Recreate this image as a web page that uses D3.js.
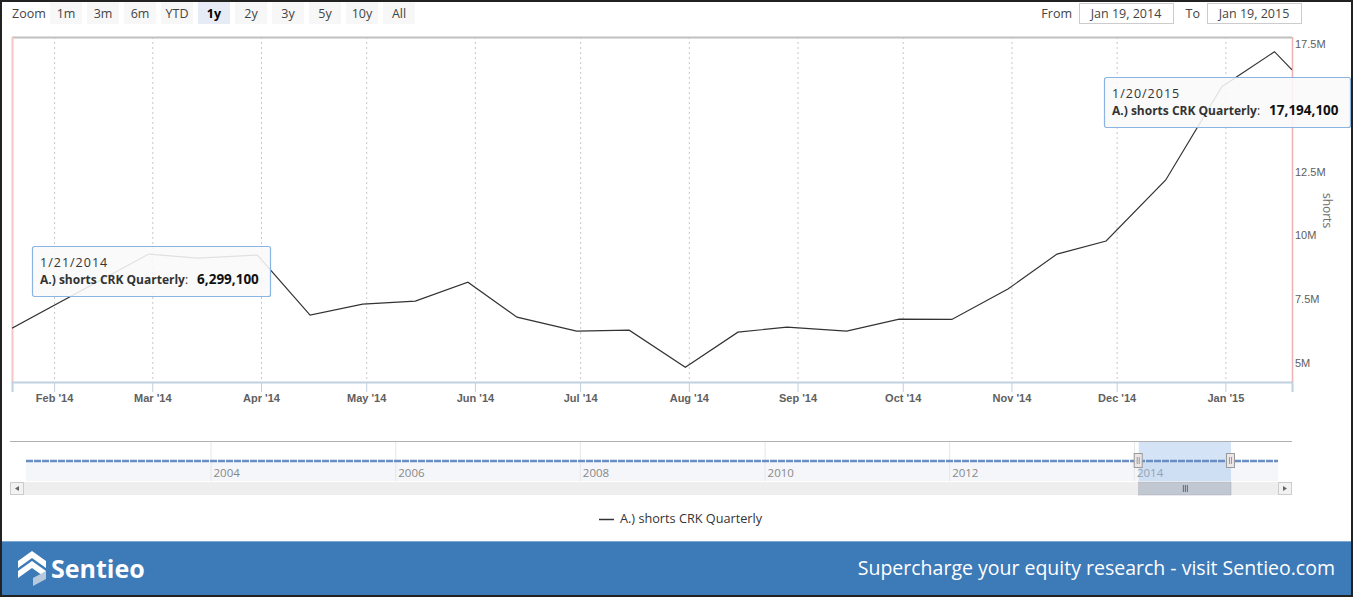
<!DOCTYPE html>
<html>
<head>
<meta charset="utf-8">
<script src="https://cdn.jsdelivr.net/npm/d3@7"></script>
<style>
  html, body { margin: 0; padding: 0; background: #fff; }
  svg { display: block; }
</style>
</head>
<body>
<div id="chart"></div>
<script>
// short interest, twice a month (values in shares)
const dates = [
  "2014-01-20", "2014-02-28", "2014-03-14", "2014-03-31", "2014-04-15", "2014-04-30",
  "2014-05-15", "2014-05-30", "2014-06-13", "2014-06-30", "2014-07-15", "2014-07-31",
  "2014-08-15", "2014-08-29", "2014-09-15", "2014-09-30", "2014-10-15", "2014-10-31",
  "2014-11-14", "2014-11-28", "2014-12-15", "2014-12-31", "2015-01-15", "2015-01-20"
];
const shorts = [
  6370000, 9270000, 9110000, 9230000, 6880000, 7310000,
  7430000, 8170000, 6800000, 6250000, 6290000, 4840000,
  6210000, 6410000, 6250000, 6720000, 6710000, 7900000,
  9270000, 9780000, 12170000, 15820000, 17194100, 16480000
];
// the 15M label sits under the right tooltip, so it is not shown
const yTicks = [5000000, 7500000, 10000000, 12500000, 17500000];
const yTickLabels = ["5M", "7.5M", "10M", "12.5M", "17.5M"];
const zoomButtons = ["1m", "3m", "6m", "YTD", "1y", "2y", "3y", "5y", "10y", "All"];
const navYears = [2004, 2006, 2008, 2010, 2012, 2014];
const seriesName = "A.) shorts CRK Quarterly";
const tooltips = [
  { date: "1/21/2014", value: "6,299,100" },
  { date: "1/20/2015", value: "17,194,100" }
];

const W = 1353, H = 597;
const parse = d3.timeParse("%Y-%m-%d");
const data = dates.map((d, i) => ({ date: parse(d), value: shorts[i] }));

const svg = d3.select("#chart").append("svg")
  .attr("width", W).attr("height", H)
  .style("font-family", "'Open Sans', sans-serif");

svg.append("rect").attr("width", W).attr("height", H).attr("fill", "#fff");

// ---- range selector buttons
svg.append("text").attr("x", 12).attr("y", 18)
  .style("font-size", "12.5px").style("fill", "#444").text("Zoom");

zoomButtons.forEach((b, i) => {
  const bx = 50 + i * 37;
  const sel = b === "1y";
  svg.append("rect").attr("x", bx).attr("y", 2).attr("width", 32).attr("height", 22)
    .attr("fill", sel ? "#e6ebf5" : "#f7f7f7");
  svg.append("text").attr("x", bx + 16).attr("y", 18).attr("text-anchor", "middle")
    .style("font-size", "12.5px")
    .style("font-weight", sel ? "bold" : "normal")
    .style("fill", sel ? "#000" : "#444").text(b);
});

svg.append("text").attr("x", 1072).attr("y", 18).attr("text-anchor", "end")
  .style("font-size", "12.5px").style("fill", "#444").text("From");
svg.append("rect").attr("x", 1079.5).attr("y", 3.5).attr("width", 94).attr("height", 20)
  .attr("fill", "#fff").attr("stroke", "#ccc");
svg.append("text").attr("x", 1126).attr("y", 18).attr("text-anchor", "middle")
  .style("font-size", "12.5px").style("fill", "#444").text("Jan 19, 2014");
svg.append("text").attr("x", 1200).attr("y", 18).attr("text-anchor", "end")
  .style("font-size", "12.5px").style("fill", "#444").text("To");
svg.append("rect").attr("x", 1207.5).attr("y", 3.5).attr("width", 94).attr("height", 20)
  .attr("fill", "#fff").attr("stroke", "#ccc");
svg.append("text").attr("x", 1254).attr("y", 18).attr("text-anchor", "middle")
  .style("font-size", "12.5px").style("fill", "#444").text("Jan 19, 2015");

// ---- main plot
const plot = { left: 12, right: 1292, top: 37, bottom: 382 };

const x = d3.scaleTime()
  .domain([parse("2014-01-20"), parse("2015-01-20")])
  .range([plot.left, plot.right]);

const y = d3.scaleLinear()
  .domain([4260000, 17770000])
  .range([plot.bottom, plot.top]);

// vertical grid
const months = x.ticks(d3.timeMonth.every(1));
svg.append("g").selectAll("line").data(months).enter().append("line")
  .attr("x1", d => x(d) + 0.5).attr("x2", d => x(d) + 0.5)
  .attr("y1", plot.top).attr("y2", plot.bottom)
  .attr("stroke", "#c8c8c8").attr("stroke-dasharray", "2,3");

// plot frame
svg.append("line").attr("x1", plot.left).attr("x2", plot.right)
  .attr("y1", plot.top + 0.5).attr("y2", plot.top + 0.5).attr("stroke", "#c0c0c0").attr("stroke-width", 2);
svg.append("line").attr("x1", plot.left + 0.5).attr("x2", plot.left + 0.5)
  .attr("y1", plot.top).attr("y2", plot.bottom).attr("stroke", "#f5c6c6").attr("stroke-width", 2);
svg.append("line").attr("x1", plot.right + 0.5).attr("x2", plot.right + 0.5)
  .attr("y1", plot.top).attr("y2", plot.bottom).attr("stroke", "#f0b0b0").attr("stroke-width", 1.5);

// x axis
const xAxis = svg.append("g")
  .attr("transform", `translate(0,${plot.bottom})`)
  .call(d3.axisBottom(x).ticks(d3.timeMonth.every(1))
    .tickFormat(d3.timeFormat("%b '%y")).tickSize(10).tickPadding(2));
xAxis.select(".domain").attr("stroke", "#c0d0e0").attr("stroke-width", 2);
xAxis.selectAll(".tick line").attr("stroke", "#c0d0e0");
xAxis.selectAll("text")
  .style("font-family", "'Liberation Sans Narrow', 'Arial Narrow', sans-serif")
  .style("font-weight", "bold").style("font-size", "11px").style("fill", "#606060");

// y axis on the right
const yAxis = svg.append("g")
  .attr("transform", `translate(${plot.right},0)`)
  .call(d3.axisRight(y).tickValues(yTicks)
    .tickFormat((d, i) => yTickLabels[i]).tickSize(0).tickPadding(3));
yAxis.select(".domain").remove();
yAxis.selectAll("text")
  .style("font-family", "'Liberation Sans Narrow', 'Arial Narrow', sans-serif")
  .style("font-size", "11px").style("fill", "#606060");

svg.append("text")
  .attr("transform", `translate(1323,${(plot.top + plot.bottom) / 2 + 1}) rotate(90)`)
  .attr("text-anchor", "middle")
  .style("font-size", "12px").style("fill", "#707070").text("shorts");

// series line
svg.append("defs").append("clipPath").attr("id", "clip")
  .append("rect").attr("x", plot.left).attr("y", plot.top)
  .attr("width", plot.right - plot.left).attr("height", plot.bottom - plot.top);

const line = d3.line().x(d => x(d.date)).y(d => y(d.value));
svg.append("path").datum(data)
  .attr("clip-path", "url(#clip)")
  .attr("fill", "none").attr("stroke", "#333").attr("stroke-width", 1.2)
  .attr("d", line);

// ---- navigator
const nav = { left: 26, right: 1278, top: 442, bottom: 481 };
const nx = d3.scaleTime()
  .domain([new Date(2002, 0, 1), new Date(2015, 6, 25)])
  .range([nav.left, nav.right]);

svg.append("rect").attr("x", nav.left).attr("y", 461).attr("width", nav.right - nav.left)
  .attr("height", nav.bottom - 461).attr("fill", "#f4f6fa");
svg.append("line").attr("x1", 10).attr("x2", plot.right).attr("y1", 441.5).attr("y2", 441.5)
  .attr("stroke", "#b0b0b0");

svg.append("g").selectAll("line").data(navYears).enter().append("line")
  .attr("x1", d => nx(new Date(d, 0, 1)) + 0.5).attr("x2", d => nx(new Date(d, 0, 1)) + 0.5)
  .attr("y1", 442).attr("y2", nav.bottom).attr("stroke", "#e6e6e6");
svg.append("g").selectAll("text").data(navYears).enter().append("text")
  .attr("x", d => nx(new Date(d, 0, 1)) + 3).attr("y", 477)
  .style("font-size", "11.5px").style("fill", "#888").text(d => d);

// selected window
const selA = nx(parse("2014-01-20")), selB = nx(parse("2015-01-20"));
svg.append("rect").attr("x", selA).attr("y", 442).attr("width", selB - selA)
  .attr("height", nav.bottom - 442).attr("fill", "rgba(160,195,235,0.45)");

// navigator series
svg.append("line").attr("x1", nav.left).attr("x2", nav.right).attr("y1", 461).attr("y2", 461)
  .attr("stroke", "#6a8dc2").attr("stroke-width", 2.5).attr("stroke-dasharray", "7,1");

[selA, selB].forEach(hx => {
  svg.append("rect").attr("x", hx - 4.5).attr("y", 453.5).attr("width", 8).attr("height", 14)
    .attr("fill", "#ebe7e8").attr("stroke", "#999");
  svg.append("line").attr("x1", hx - 1.5).attr("x2", hx - 1.5).attr("y1", 457).attr("y2", 464).attr("stroke", "#999");
  svg.append("line").attr("x1", hx + 0.5).attr("x2", hx + 0.5).attr("y1", 457).attr("y2", 464).attr("stroke", "#999");
});

// scrollbar
svg.append("rect").attr("x", 10).attr("y", 482).attr("width", plot.right - 10).attr("height", 13)
  .attr("fill", "#eeeeee");
svg.append("rect").attr("x", selA).attr("y", 482).attr("width", selB - selA).attr("height", 13)
  .attr("fill", "#c1c8d2").attr("stroke", "#aab").attr("stroke-width", 0.5);
[-2, 0, 2].forEach(o => {
  svg.append("line").attr("x1", (selA + selB) / 2 + o + 0.5).attr("x2", (selA + selB) / 2 + o + 0.5)
    .attr("y1", 485).attr("y2", 492).attr("stroke", "#666");
});
svg.append("rect").attr("x", 10.5).attr("y", 482.5).attr("width", 13).attr("height", 12)
  .attr("fill", "#f2f2f2").attr("stroke", "#ccc");
svg.append("path").attr("d", "M19,486 L15,488.5 L19,491 Z").attr("fill", "#666");
svg.append("rect").attr("x", 1278.5).attr("y", 482.5).attr("width", 13).attr("height", 12)
  .attr("fill", "#f2f2f2").attr("stroke", "#ccc");
svg.append("path").attr("d", "M1283,486 L1287,488.5 L1283,491 Z").attr("fill", "#666");

// ---- legend
svg.append("line").attr("x1", 599).attr("x2", 614).attr("y1", 519.5).attr("y2", 519.5)
  .attr("stroke", "#333").attr("stroke-width", 1.5);
svg.append("text").attr("x", 620).attr("y", 523)
  .style("font-size", "12.7px").style("fill", "#333").text(seriesName);

// ---- tooltips
function tooltip(tx, ty, w, t) {
  const g = svg.append("g").attr("transform", `translate(${tx},${ty})`);
  g.append("rect").attr("x", 0.5).attr("y", 0.5).attr("width", w).attr("height", 50)
    .attr("rx", 2).attr("fill", "rgba(249,249,249,0.88)")
    .attr("stroke", "#8cb4e2").attr("stroke-width", 1.2);
  g.append("text").attr("x", 8).attr("y", 21)
    .style("font-size", "12.5px").style("fill", "#333").style("letter-spacing", "1px").text(t.date);
  const tt = g.append("text").attr("x", 8).attr("y", 38).style("fill", "#333");
  tt.append("tspan").style("font-size", "12px").style("font-weight", "bold").text(seriesName);
  tt.append("tspan").style("font-size", "12px").text(":");
  tt.append("tspan").attr("dx", 9).style("font-size", "13.5px").style("font-weight", "bold")
    .style("fill", "#111").text(t.value);
}
tooltip(32, 246, 238, tooltips[0]);
tooltip(1104, 77, 246, tooltips[1]);

// ---- footer band
svg.append("rect").attr("x", 0).attr("y", 541).attr("width", W).attr("height", H - 541)
  .attr("fill", "#3d7ab8");
svg.append("line").attr("x1", 0).attr("x2", W).attr("y1", 541.5).attr("y2", 541.5)
  .attr("stroke", "#7fa9d6");

// logo mark
const logo = svg.append("g").attr("transform", "translate(18,551)");
logo.append("path").attr("d", "M0,10 L14,0 L28,10 L28,17 L14,7 L0,17 Z").attr("fill", "#fff");
logo.append("path").attr("d", "M0,20 L14,10 L28,20 L28,27 L14,17 L0,27 Z").attr("fill", "#fff");
logo.append("path").attr("d", "M15,27 L28,20 L28,28 L15,35 Z").attr("fill", "#b9c9dc");
svg.append("text").attr("x", 51).attr("y", 578)
  .style("font-family", "'Open Sans', sans-serif").style("font-weight", "bold")
  .style("font-size", "25px").style("fill", "#fff").text("Sentieo");

svg.append("text").attr("x", 1335).attr("y", 575).attr("text-anchor", "end")
  .style("font-size", "19.5px").style("fill", "#fff")
  .text("Supercharge your equity research - visit Sentieo.com");

// outer frame
svg.append("rect").attr("x", 1).attr("y", 1).attr("width", W - 2).attr("height", H - 2)
  .attr("fill", "none").attr("stroke", "#222").attr("stroke-width", 2);
</script>
</body>
</html>
